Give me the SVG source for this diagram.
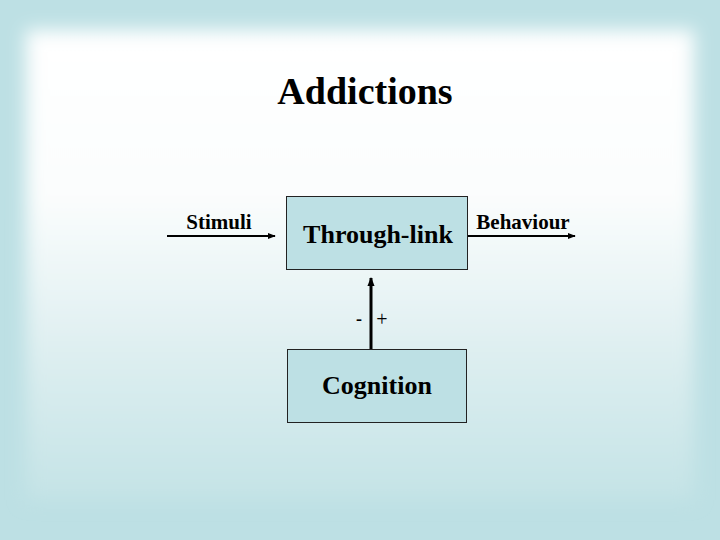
<svg xmlns="http://www.w3.org/2000/svg" width="720" height="540" viewBox="0 0 720 540">
<defs>
<linearGradient id="bg" x1="0" y1="0" x2="0" y2="1">
<stop offset="0" stop-color="#ffffff"/>
<stop offset="0.35" stop-color="#fbfdfd"/>
<stop offset="0.75" stop-color="#d8ecee"/>
<stop offset="1" stop-color="#c4e3e6"/>
</linearGradient>
<filter id="soft" x="-10%" y="-10%" width="120%" height="120%">
<feGaussianBlur stdDeviation="9"/>
</filter>
<marker id="ah" viewBox="0 0 10 10" refX="9" refY="5" markerWidth="4" markerHeight="4" orient="auto" markerUnits="strokeWidth">
<path d="M0,1 L10,5 L0,9 z" fill="#000"/>
</marker>
<marker id="ah2" viewBox="0 0 10 10" refX="9" refY="5" markerWidth="3" markerHeight="3" orient="auto" markerUnits="strokeWidth">
<path d="M0,1 L10,5 L0,9 z" fill="#000"/>
</marker>
</defs>
<style>
.box{fill:#bde0e4;stroke:#222;stroke-width:1}
.t{font-family:"Liberation Serif","DejaVu Serif",serif;font-weight:bold;fill:#000}
.n{font-family:"Liberation Serif","DejaVu Serif",serif;fill:#000}
.conn{stroke:#000;fill:none}
</style>
<rect width="720" height="540" fill="#bde0e4"/>
<rect x="26" y="30" width="668" height="470" fill="url(#bg)" filter="url(#soft)"/>
<text class="t" x="365" y="104" font-size="38" text-anchor="middle">Addictions</text>
<g id="through-link">
<rect class="box" x="286.500" y="196.500" width="181" height="73"/>
<text class="t" x="378" y="243" font-size="26" text-anchor="middle">Through-link</text>
</g>
<g id="cognition">
<rect class="box" x="287.500" y="349.500" width="179" height="73"/>
<text class="t" x="377" y="394" font-size="26" text-anchor="middle">Cognition</text>
</g>
<g id="connectors">
<line class="conn" x1="167" y1="236" x2="275" y2="236" stroke-width="2" marker-end="url(#ah)"/>
<line class="conn" x1="468" y1="236" x2="575" y2="236" stroke-width="2" marker-end="url(#ah)"/>
<line class="conn" x1="371" y1="349" x2="371" y2="278" stroke-width="3" marker-end="url(#ah2)"/>
</g>
<text class="t" x="219" y="229" font-size="21" text-anchor="middle">Stimuli</text>
<text class="t" x="523" y="229" font-size="21" text-anchor="middle">Behaviour</text>
<text class="t" x="359" y="325" font-size="18" text-anchor="middle">-</text>
<text class="n" x="382" y="326" font-size="20" text-anchor="middle">+</text>
</svg>
